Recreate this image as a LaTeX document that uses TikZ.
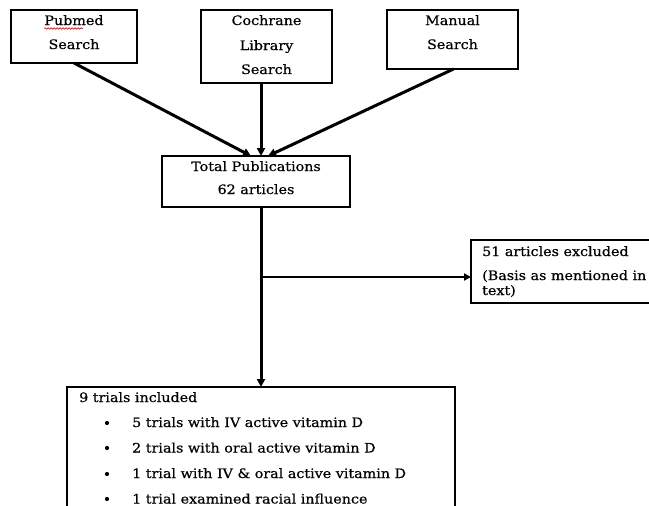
\documentclass[tikz,border=0pt]{standalone}
\usepackage{fontspec}
\setmainfont{DejaVu Serif}[FakeStretch=1.1, FakeBold=0.6]
\usetikzlibrary{arrows.meta,decorations.pathmorphing}
\begin{document}
\begin{tikzpicture}[x=1pt,y=-1pt,
  box/.style={draw, line width=2.2pt, inner sep=0pt, outer sep=0pt, anchor=north west},
  txt/.style={inner sep=0pt, font=\fontsize{13}{15}\selectfont, anchor=base},
  ltxt/.style={txt, anchor=base west},
  arr/.style={line width=3pt, -{Triangle[length=8pt,width=8pt]}},
  thinarr/.style={line width=2.2pt, -{Triangle[length=7pt,width=7pt]}}]
\useasboundingbox (0,0) rectangle (649,506);
\clip (0,0) rectangle (649,506);
% boxes
\node[box, minimum width=126pt, minimum height=53pt] (pub) at (11,10) {};
\node[box, minimum width=131pt, minimum height=73pt] (coch) at (201,10) {};
\node[box, minimum width=131pt, minimum height=59pt] (man) at (387,10) {};
\node[box, minimum width=188pt, minimum height=51pt] (tot) at (162,156) {};
\node[box, minimum width=185pt, minimum height=63pt] (exc) at (471,240) {};
\node[box, minimum width=388pt, minimum height=150pt] (inc) at (67,387) {};
% texts
\node[txt] (pubA) at (74,25) {Pubmed};
\node[txt] (pubB) at (74,49) {Search};
\draw[red, line width=0.6pt, decorate, decoration={snake, amplitude=0.8pt, segment length=3pt}] (pubA.base west) ++(0,3.5) -- ++(39,0) coordinate (wavyend);
\node[txt] (cochA) at (266.5,25) {Cochrane};
\node[txt] (cochB) at (266.5,50) {Library};
\node[txt] (cochC) at (266.5,74) {Search};
\node[txt] (manA) at (452.5,25) {Manual};
\node[txt] (manB) at (452.5,49) {Search};
\node[txt] (totA) at (256,171) {Total Publications};
\node[txt] (totB) at (256,194) {62 articles};
\node[ltxt] (excA) at (482,256) {51 articles excluded};
\node[ltxt] (excB) at (482,280) {(Basis as mentioned in};
\node[ltxt] (excC) at (482,295) {text)};
\node[ltxt] (incA) at (79,402) {9 trials included};
\node[ltxt] (incB) at (132,427) {5 trials with IV active vitamin D};
\node[ltxt] (incC) at (132,452.5) {2 trials with oral active vitamin D};
\node[ltxt] (incD) at (132,478) {1 trial with IV \& oral active vitamin D};
\node[ltxt] (incE) at (132,503.5) {1 trial examined racial influence};
\foreach \yy/\nn in {423/b1,448/b2,474/b3,499/b4}
  \fill (107,\yy) circle (2.1pt) coordinate (\nn);
% connectors
\coordinate (sp) at (261,0);
\coordinate (branch) at (261,277);
\draw[arr] (pub.south) -- ([xshift=-5pt]tot.north);
\draw[arr] (coch.south -| sp) -- (tot.north -| sp);
\draw[arr] ([xshift=1pt]man.south) -- ([xshift=12pt]tot.north);
\draw[arr] (tot.south -| sp) -- (inc.north -| sp);
\draw[thinarr] (branch) -- (exc.west |- branch);
\end{tikzpicture}
\end{document}
